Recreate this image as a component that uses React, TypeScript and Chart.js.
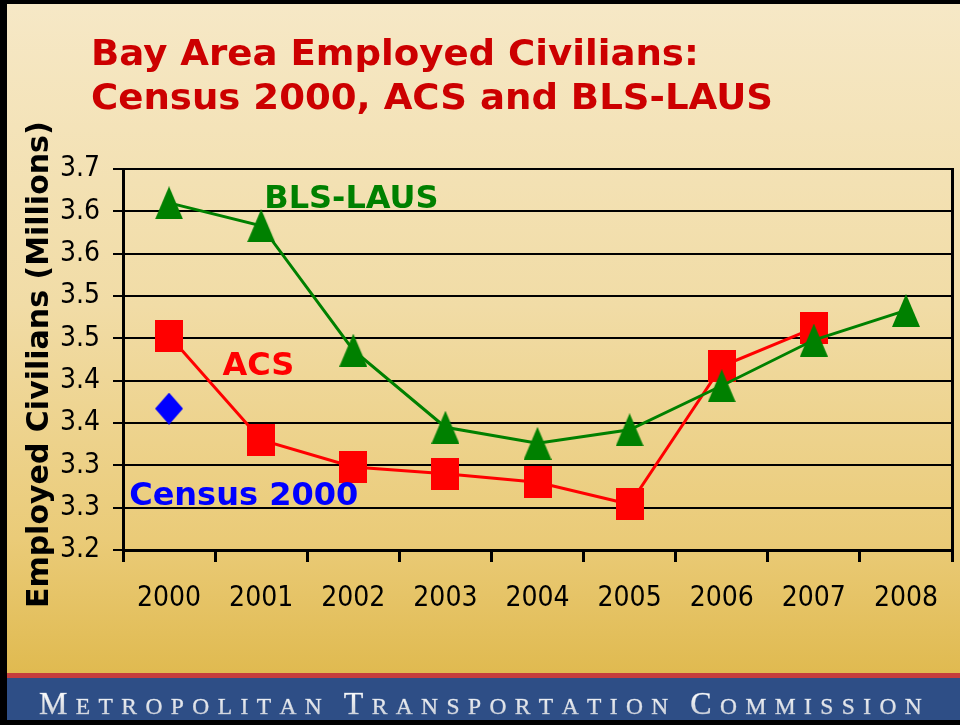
import React, { useEffect, useRef } from 'react';
import { Chart, registerables } from 'chart.js';

Chart.register(...registerables);

// ---- data ----
const years = ['2000', '2001', '2002', '2003', '2004', '2005', '2006', '2007', '2008'];
const blsLaus = [3.610, 3.583, 3.436, 3.345, 3.326, 3.342, 3.394, 3.448, 3.483];
const acs = [3.453, 3.330, 3.298, 3.290, 3.280, 3.254, 3.417, 3.462, null];
const census2000 = [3.367, null, null, null, null, null, null, null, null];
const yTickLabels = ['3.2', '3.3', '3.3', '3.4', '3.4', '3.5', '3.5', '3.6', '3.6', '3.7'];
const seriesNames = ['BLS-LAUS', 'ACS', 'Census 2000'];
const titleLines = ['Bay Area Employed Civilians:', 'Census 2000, ACS and BLS-LAUS'];
const axisTitle = 'Employed Civilians (Millions) ';
const footerWords = ['Metropolitan', 'Transportation', 'Commission'];

// series label anchors (category index, value at text baseline)
const seriesLabelAnchors = [
  { text: seriesNames[0], xIndex: 1.98, yValue: 3.604, color: '#008000' },
  { text: seriesNames[1], xIndex: 0.97, yValue: 3.4067, color: '#ff0000' },
  { text: seriesNames[2], xIndex: 0.81, yValue: 3.253, color: '#0000ff' },
];

function makeMarker(shape: string, w: number, h: number, color: string) {
  const c = document.createElement('canvas');
  c.width = w;
  c.height = h;
  const g = c.getContext('2d')!;
  g.fillStyle = color;
  g.beginPath();
  if (shape === 'triangle') {
    g.moveTo(w / 2, 0);
    g.lineTo(w, h);
    g.lineTo(0, h);
  } else if (shape === 'diamond') {
    g.moveTo(w / 2, 0);
    g.lineTo(w, h / 2);
    g.lineTo(w / 2, h);
    g.lineTo(0, h / 2);
  } else {
    g.rect(0, 0, w, h);
  }
  g.closePath();
  g.fill();
  return c;
}

const decorPlugin = {
  id: 'decor',
  beforeDraw(chart: any) {
    const ctx = chart.ctx as CanvasRenderingContext2D;
    const W = chart.width;
    const H = chart.height;
    ctx.save();
    ctx.fillStyle = '#000';
    ctx.fillRect(0, 0, W, H);
    const grad = ctx.createLinearGradient(0, 4, 0, 673);
    grad.addColorStop(0, '#f6e8c6');
    grad.addColorStop(0.45, '#f1dca6');
    grad.addColorStop(0.8, '#eacb78');
    grad.addColorStop(1, '#e0ba50');
    ctx.fillStyle = grad;
    ctx.fillRect(7, 4, W - 7, 669);
    ctx.fillStyle = '#c53d3d';
    ctx.fillRect(7, 673, W - 7, 5);
    ctx.fillStyle = '#2e4e86';
    ctx.fillRect(7, 678, W - 7, 42);
    ctx.restore();
  },
  afterDraw(chart: any) {
    const ctx = chart.ctx as CanvasRenderingContext2D;
    ctx.save();
    // title (slightly widened like the original lettering)
    ctx.fillStyle = '#cc0000';
    ctx.font = 'bold 35px "DejaVu Sans"';
    ctx.textAlign = 'left';
    ctx.textBaseline = 'alphabetic';
    const w2 = ctx.measureText(titleLines[1]).width;
    const sx = 682 / w2;
    [65, 109].forEach((by, i) => {
      ctx.save();
      ctx.translate(91, by);
      ctx.scale(sx, 1);
      ctx.fillText(titleLines[i], 0, 0);
      ctx.restore();
    });

    // series labels
    const xs = chart.scales.x;
    const ys = chart.scales.y;
    ctx.font = 'bold 32px "DejaVu Sans"';
    ctx.textAlign = 'center';
    for (const a of seriesLabelAnchors) {
      ctx.fillStyle = a.color;
      ctx.fillText(a.text, xs.getPixelForValue(a.xIndex), ys.getPixelForValue(a.yValue));
    }

    // footer
    const grad = ctx.createLinearGradient(0, 692, 0, 715);
    grad.addColorStop(0, '#ffffff');
    grad.addColorStop(1, '#c8cdd6');
    ctx.fillStyle = grad;
    ctx.strokeStyle = 'rgba(230,233,240,0.6)';
    ctx.lineWidth = 0.5;
    ctx.textAlign = 'left';
    let x = 39;
    const spacing = 8.4;
    const wordGap = 22;
    footerWords.forEach((word, wi) => {
      const up = word.toUpperCase();
      for (let i = 0; i < up.length; i++) {
        ctx.font = (i === 0 ? '32px' : '23.5px') + ' "Liberation Serif"';
        ctx.fillText(up[i], x, 714);
        ctx.strokeText(up[i], x, 714);
        x += ctx.measureText(up[i]).width;
        if (i < up.length - 1) x += spacing;
      }
      if (wi < footerWords.length - 1) x += wordGap;
    });
    ctx.restore();
  },
};

export default function App() {
  const ref = useRef<HTMLCanvasElement>(null);
  useEffect(() => {
    document.body.style.margin = '0';
    const tri = makeMarker('triangle', 28, 33, '#008000');
    const sq = makeMarker('square', 28, 32, '#ff0000');
    const dia = makeMarker('diamond', 28, 32, '#0000ff');
    const chart = new Chart(ref.current!, {
      type: 'line',
      data: {
        labels: years,
        datasets: [
          {
            label: seriesNames[0],
            data: blsLaus,
            borderColor: '#008000',
            borderWidth: 3,
            pointStyle: tri as any,
            tension: 0,
          },
          {
            label: seriesNames[1],
            data: acs,
            borderColor: '#ff0000',
            borderWidth: 3,
            pointStyle: sq as any,
            tension: 0,
          },
          {
            label: seriesNames[2],
            data: census2000,
            showLine: false,
            pointStyle: dia as any,
          },
        ],
      },
      options: {
        animation: false,
        responsive: false,
        maintainAspectRatio: false,
        layout: { padding: { top: 169, left: 0, right: 0, bottom: 0 } },
        plugins: {
          legend: { display: false },
          tooltip: { enabled: false },
          title: { display: false },
        },
        scales: {
          x: {
            type: 'category',
            offset: true,
            grid: {
              display: true,
              offset: true,
              drawOnChartArea: false,
              drawTicks: true,
              tickLength: 12,
              color: '#000',
              lineWidth: 3,
            },
            border: { display: true, color: '#000', width: 3 },
            ticks: {
              color: '#000',
              font: { family: '"DejaVu Sans Condensed"', size: 28 },
              padding: 20,
              maxRotation: 0,
              autoSkip: false,
            },
            afterFit(scale: any) {
              scale.height = 175;
            },
          },
          y: {
            type: 'linear',
            position: 'left',
            min: 3.2,
            max: 3.65,
            ticks: {
              stepSize: 0.05,
              color: '#000',
              font: { family: '"DejaVu Sans Condensed"', size: 28 },
              padding: 13,
              callback: (_v: any, i: number) => yTickLabels[i],
            },
            grid: {
              color: '#000',
              lineWidth: 2,
              drawTicks: true,
              tickLength: 10,
            },
            border: { display: true, color: '#000', width: 3 },
            title: {
              display: true,
              text: axisTitle,
              color: '#000',
              font: { family: '"DejaVu Sans"', size: 30, weight: 'bold' },
              padding: { top: 22, bottom: 0 },
            },
            afterFit(scale: any) {
              scale.width = 123;
            },
          },
          y2: {
            type: 'linear',
            position: 'right',
            min: 3.2,
            max: 3.65,
            ticks: { display: false },
            grid: { display: false },
            border: { display: true, color: '#000', width: 3 },
            afterFit(scale: any) {
              scale.width = 8;
            },
          },
        },
      },
      plugins: [decorPlugin],
    });
    return () => chart.destroy();
  }, []);
  return (
    <div style={{ position: 'absolute', left: 0, top: 0, width: 960, height: 725 }}>
      <canvas ref={ref} width={960} height={725} style={{ display: 'block' }} />
    </div>
  );
}
